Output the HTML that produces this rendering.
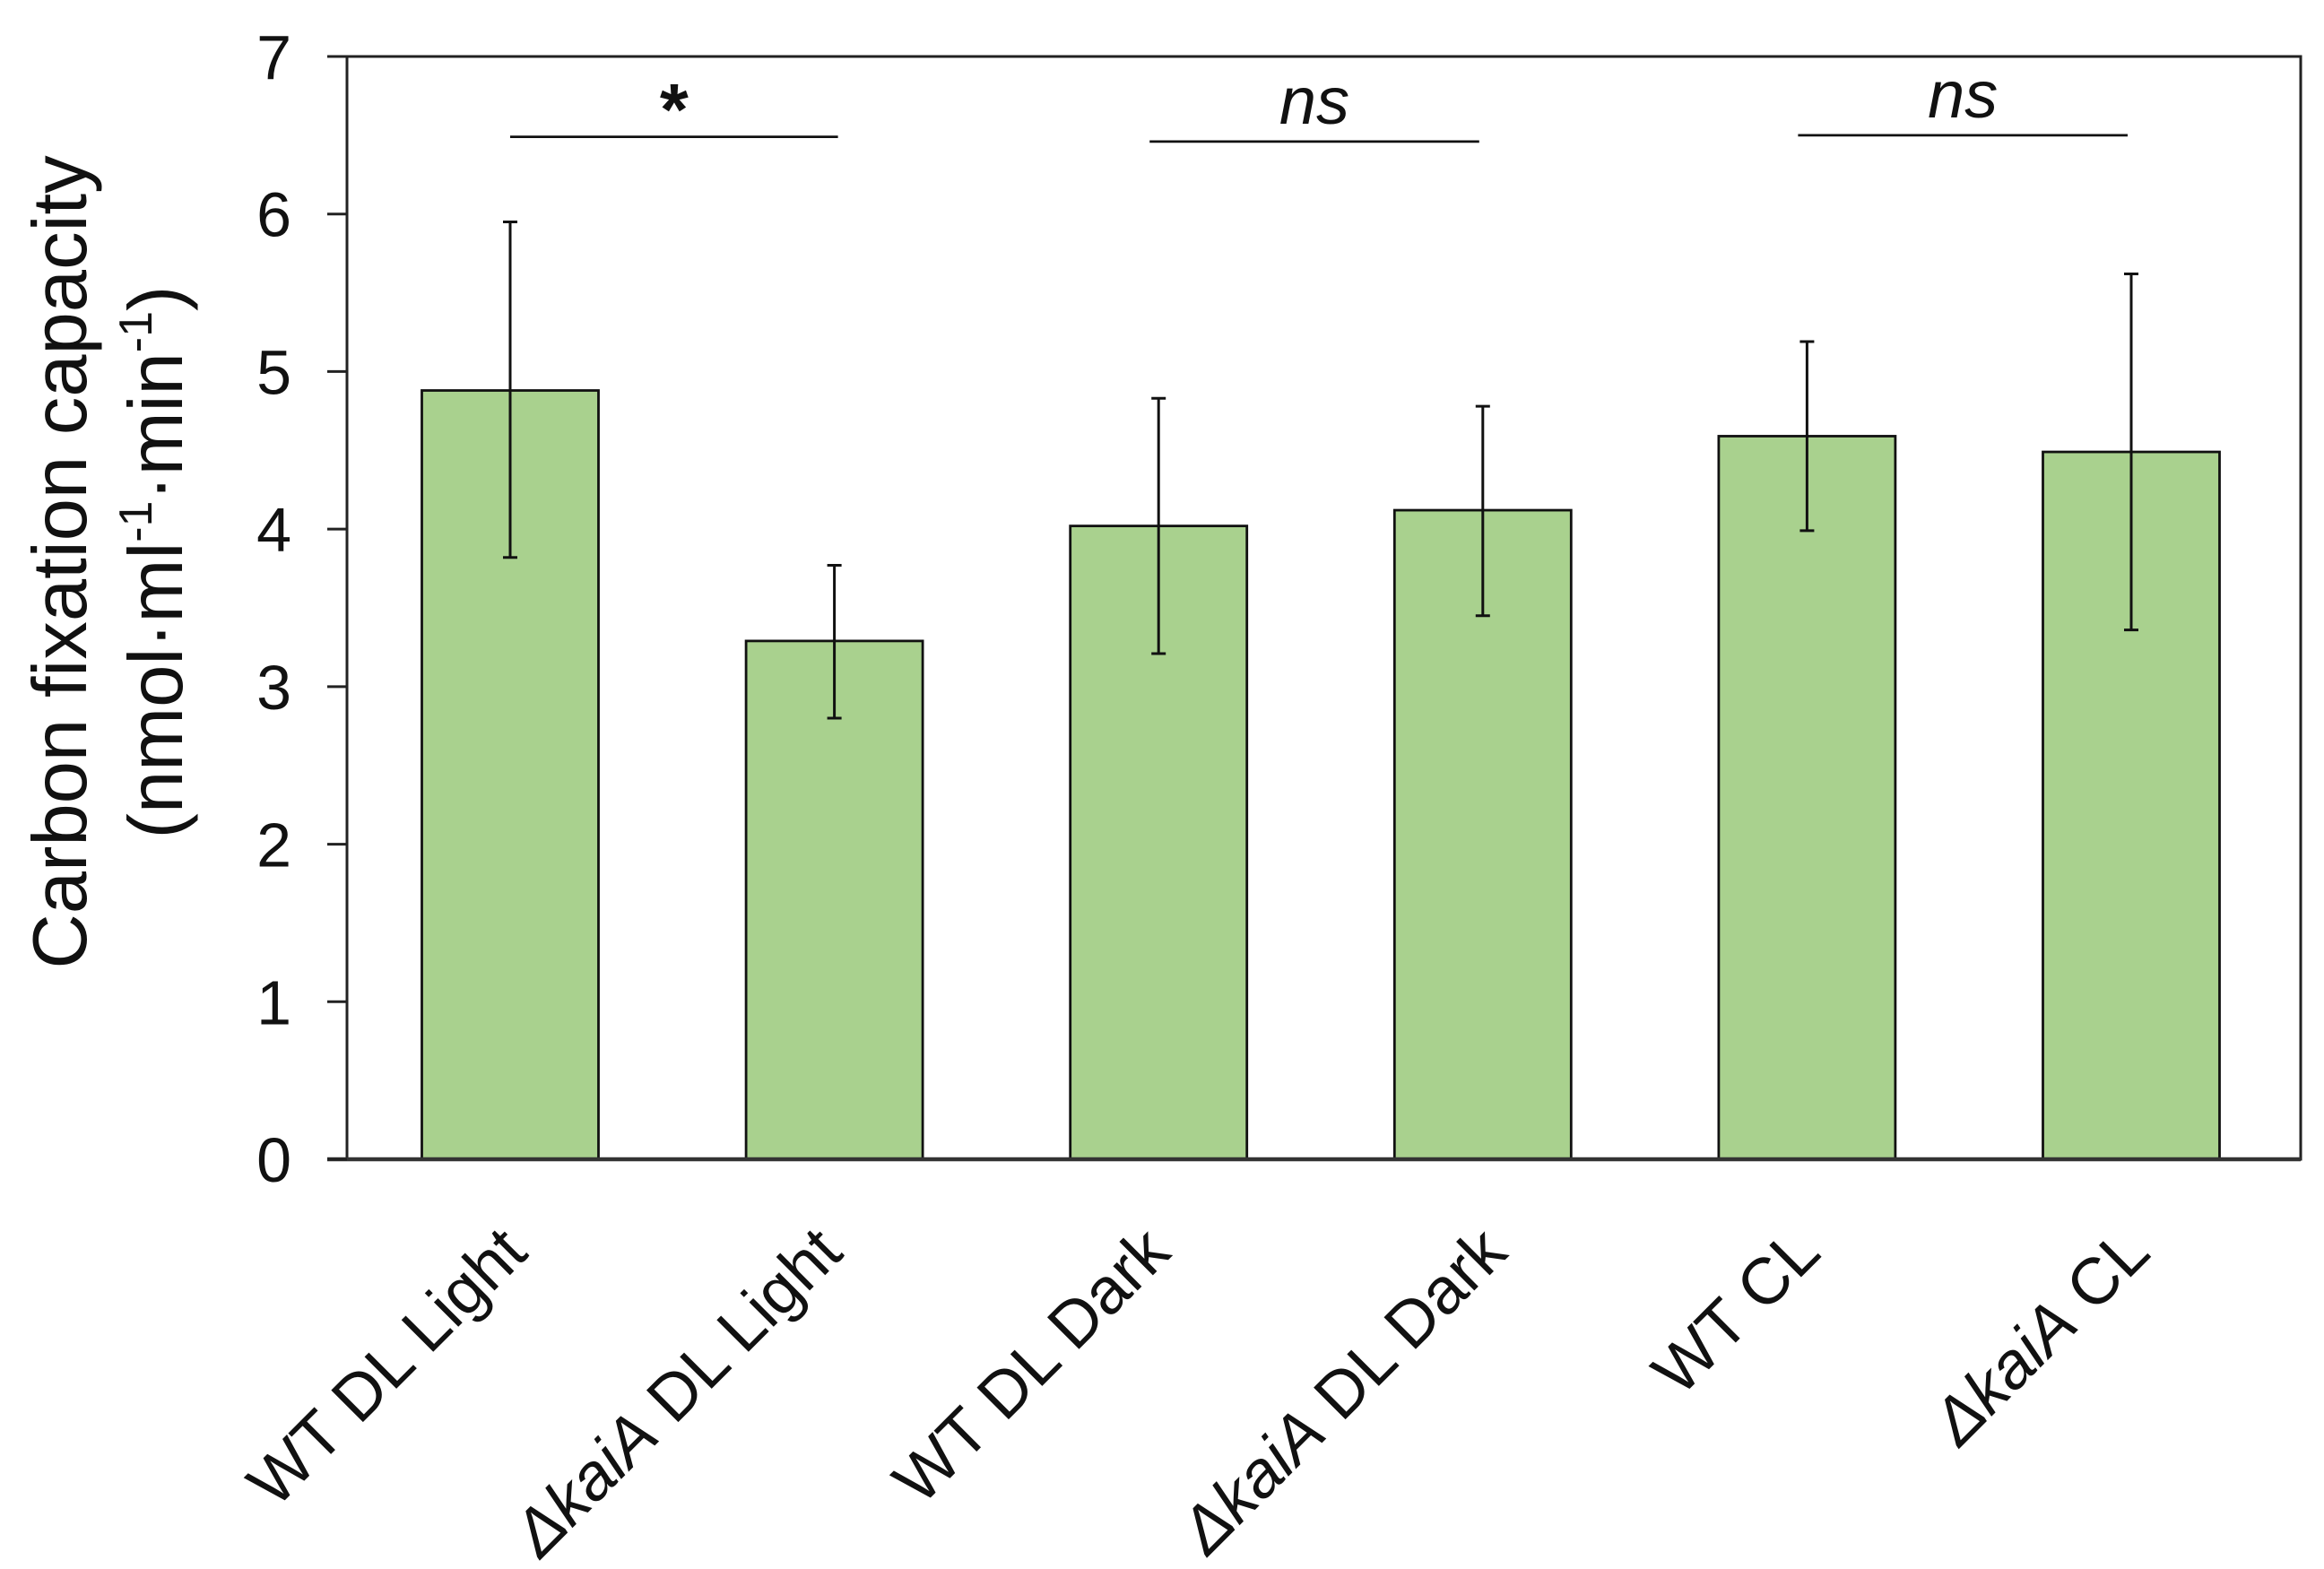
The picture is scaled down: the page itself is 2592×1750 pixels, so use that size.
<!DOCTYPE html>
<html><head><meta charset="utf-8"><style>
html,body{margin:0;padding:0;background:#fff;}
svg{display:block;font-family:"Liberation Sans",Arial,sans-serif;}
</style></head><body>
<svg id="chart" width="2592" height="1750" viewBox="0 0 2592 1750" xmlns="http://www.w3.org/2000/svg">
<g id="plot"></g>
<text transform="translate(96,627) rotate(-90)" text-anchor="middle" font-size="85" fill="#111">Carbon fixation capacity</text>
<text transform="translate(203,627) rotate(-90)" text-anchor="middle" font-size="85" fill="#111">(nmol·ml<tspan font-size="52" dy="-34">-1</tspan><tspan dy="34">·min</tspan><tspan font-size="52" dy="-34">-1</tspan><tspan dy="34">)</tspan></text>
</svg>
<script>
const categories = ["WT DL Light", "ΔkaiA DL Light", "WT DL Dark", "ΔkaiA DL Dark", "WT CL", "ΔkaiA CL"];
const values = [4.88, 3.29, 4.02, 4.12, 4.59, 4.49];
const errHigh = [5.95, 3.77, 4.83, 4.78, 5.19, 5.62];
const errLow = [3.82, 2.80, 3.21, 3.45, 3.99, 3.36];
const yTicks = [0, 1, 2, 3, 4, 5, 6, 7];
const sigFrom = [0, 2, 4];
const sigTo = [1, 3, 5];
const sigLevel = [6.49, 6.46, 6.50];
const sigLabel = ["*", "ns", "ns"];

const NS = "http://www.w3.org/2000/svg";
const plot = document.getElementById('plot');
const X0 = 387, X1 = 2566, Y0 = 1293, Y1 = 63, YMAX = 7;
const firstCenter = 569, pitch = 361.6;
const barW = 197;
function xCenter(i){ return firstCenter + pitch * i; }
function yScale(v){ return Y0 - (v / YMAX) * (Y0 - Y1); }
function mk(tag, attrs){ const e = document.createElementNS(NS, tag); for (const k in attrs) e.setAttribute(k, attrs[k]); plot.appendChild(e); return e; }

categories.forEach((c, i) => {
  const y = yScale(values[i]);
  const r = mk('rect', {x: xCenter(i) - barW/2, y: y, width: barW, height: Y0 - y, fill: '#a9d18e', stroke: '#111', 'stroke-width': 2.8});
  
  
});
categories.forEach((c, i) => {
  const cx = xCenter(i), yh = yScale(errHigh[i]), yl = yScale(errLow[i]);
  const g = document.createElementNS(NS, 'g');
  
  
  plot.appendChild(g);
  [[cx, yh, cx, yl], [cx-8, yh, cx+8, yh], [cx-8, yl, cx+8, yl]].forEach(p => {
    const l = document.createElementNS(NS, 'line');
    l.setAttribute('x1', p[0]); l.setAttribute('y1', p[1]); l.setAttribute('x2', p[2]); l.setAttribute('y2', p[3]);
    l.setAttribute('stroke', '#111'); l.setAttribute('stroke-width', 3);
    g.appendChild(l);
  });
});
const frame = mk('rect', {x: X0, y: Y1, width: X1 - X0, height: Y0 - Y1, fill: 'none', stroke: '#222', 'stroke-width': 3});


const xAxis = mk('line', {x1: X0 - 22, y1: Y0, x2: X1, y2: Y0, stroke: '#333', 'stroke-width': 4.5});


yTicks.forEach(t => {
  const y = yScale(t);
  const tl = mk('line', {x1: X0 - 22, y1: y, x2: X0, y2: y, stroke: '#222', 'stroke-width': 3});
  
  
  const tx = mk('text', {x: 325, y: y + 25, 'text-anchor': 'end', 'font-size': 70, fill: '#111'});
  tx.textContent = t;
  
  
});
const labelDx = [22, 12, 16, 30, 18, 24];
categories.forEach((c, i) => {
  const ax = xCenter(i) + labelDx[i], ay = 1400;
  const t = mk('text', {transform: 'translate(' + ax + ',' + ay + ') rotate(-45)', 'text-anchor': 'end', 'font-size': 73, fill: '#111'});
  
  
  if (c.startsWith('ΔkaiA')) {
    const a = document.createElementNS(NS, 'tspan'); a.setAttribute('font-style', 'italic'); a.textContent = 'ΔkaiA'; t.appendChild(a);
    const b = document.createElementNS(NS, 'tspan'); b.textContent = c.slice(5); t.appendChild(b);
  } else t.textContent = c;
});
sigFrom.forEach((f, k) => {
  const y = yScale(sigLevel[k]), xa = xCenter(f) - (k ? 10 : 0), xb = xCenter(sigTo[k]) - (k ? 4 : -4);
  const l = mk('line', {x1: xa, y1: y, x2: xb, y2: y, stroke: '#111', 'stroke-width': 2.8});
  
  
  const isStar = sigLabel[k] === '*';
  const t = mk('text', {x: (xa + xb) / 2, y: isStar ? y - 2 : y - 20, 'text-anchor': 'middle', 'font-size': isStar ? 82 : 74, 'font-style': isStar ? 'normal' : 'italic', 'font-weight': isStar ? 'bold' : 'normal', fill: '#111'});
  t.textContent = sigLabel[k];
  
  
});
</script>
</body></html>
